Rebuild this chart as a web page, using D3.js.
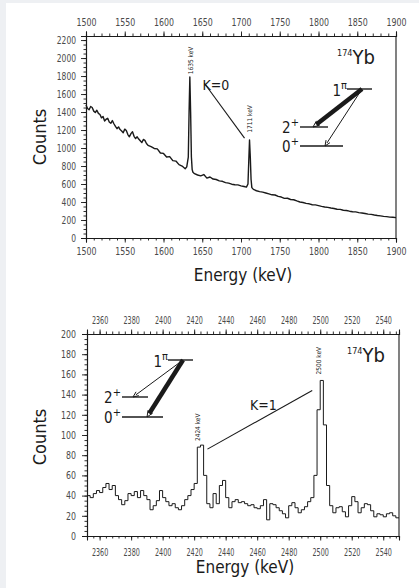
<!DOCTYPE html>
<html><head><meta charset="utf-8">
<script src="https://cdn.jsdelivr.net/npm/d3@7"></script>
<style>
html,body{margin:0;padding:0;background:#fff;}
svg{display:block;}
text{font-family:"DejaVu Sans Condensed","DejaVu Sans",sans-serif;}
</style></head>
<body><svg id="c" width="419" height="588"></svg>
<script>
// ---------- DATA ----------
// Upper panel: gamma spectrum 1500–1900 keV
const topE = [1500,1502,1504,1506,1508,1510,1512,1514,1516,1518,1520,1522,1524,1526,1528,1530,1532,1534,1536,1538,1540,1542,1544,1546,1548,1550,1552,1554,1556,1558,1560,1562,1564,1566,1568,1570,1572,1574,1576,1578,1580,1584,1588,1592,1596,1600,1604,1608,1612,1616,1620,1624,1628,1630,1632,1633,1634,1635,1636,1637,1638,1640,1644,1648,1652,1656,1660,1664,1668,1672,1676,1680,1684,1688,1692,1696,1700,1704,1707,1709,1710,1711,1712,1713,1714,1716,1720,1724,1728,1732,1736,1740,1744,1748,1752,1756,1760,1764,1768,1772,1776,1780,1784,1788,1792,1796,1800,1804,1808,1812,1816,1820,1824,1828,1832,1836,1840,1844,1848,1852,1856,1860,1864,1868,1872,1876,1880,1884,1888,1892,1896,1900];
const topC = [1478,1440,1425,1462,1450,1410,1395,1420,1385,1372,1335,1350,1300,1320,1330,1290,1275,1305,1270,1240,1215,1235,1205,1190,1170,1210,1195,1150,1125,1160,1180,1130,1105,1125,1100,1080,1060,1095,1085,1050,1030,1015,995,990,945,940,900,905,860,855,815,800,770,790,900,1400,1790,1400,900,760,730,715,700,690,705,665,678,655,650,635,630,615,610,598,592,590,580,572,565,600,850,1090,900,650,560,540,525,515,510,500,490,480,478,462,455,440,442,428,425,412,400,395,385,380,370,368,360,352,345,340,333,328,320,318,308,305,298,292,290,282,278,272,265,262,255,250,246,240,238,232,230,226];
const topXTicks = [1500,1550,1600,1650,1700,1750,1800,1850,1900];
const topYTicks = [0,200,400,600,800,1000,1200,1400,1600,1800,2000,2200];

// Lower panel: gamma spectrum 2352–2550 keV
const botE = [2352,2354,2356,2358,2360,2362,2364,2366,2368,2370,2372,2374,2376,2378,2380,2382,2384,2386,2388,2390,2392,2394,2396,2398,2400,2402,2404,2406,2408,2410,2412,2414,2416,2418,2420,2422,2424,2426,2428,2430,2432,2434,2436,2438,2440,2442,2444,2446,2448,2450,2452,2454,2456,2458,2460,2462,2464,2466,2468,2470,2472,2474,2476,2478,2480,2482,2484,2486,2488,2490,2492,2494,2496,2498,2500,2502,2504,2506,2508,2510,2512,2514,2516,2518,2520,2522,2524,2526,2528,2530,2532,2534,2536,2538,2540,2542,2544,2546,2548,2550];
const botC = [40,38,42,45,43,48,52,46,50,40,36,31,35,42,40,44,38,45,40,36,26,30,35,45,38,34,30,32,28,26,30,36,40,46,52,88,90,60,32,28,42,32,50,55,38,28,34,36,33,34,32,30,31,28,27,30,36,16,32,31,28,25,22,18,30,33,28,23,26,29,34,38,60,125,154,110,50,30,23,28,29,24,19,30,39,34,23,28,32,31,25,19,22,21,19,22,23,20,18,18];
const botXTicks = [2360,2380,2400,2420,2440,2460,2480,2500,2520,2540];
const botYTicks = [0,20,40,60,80,100,120,140,160,180,200];

// ---------- DRAW ----------
const svg = d3.select("#c");
svg.append("rect").attr("x",0).attr("y",0).attr("width",6).attr("height",588).attr("fill","#eef0f3");
svg.append("rect").attr("x",0).attr("y",0).attr("width",419).attr("height",3).attr("fill","#eef0f3");

const ink = "#1a1a1a", tickCol = "#4a4a4a";

function panel(o){
  const x = d3.scaleLinear().domain(o.xd).range([o.l,o.r]);
  const y = d3.scaleLinear().domain(o.yd).range([o.b,o.t]);
  const g = svg.append("g");
  const styleAxis = (perDigit) => sel => {
    sel.selectAll(".domain").attr("stroke",ink).attr("stroke-width",1.1);
    sel.selectAll(".tick line").attr("stroke",ink).attr("stroke-width",0.9);
    sel.selectAll("text").attr("fill",tickCol).attr("font-size",10.5)
      .attr("font-family",'"DejaVu Sans Condensed","DejaVu Sans",sans-serif')
      .each(function(){
        const s = d3.select(this).text();
        if (s && perDigit) d3.select(this).attr("textLength", s.length*perDigit).attr("lengthAdjust","spacingAndGlyphs");
      });
  };
  const minorX = d3.range(Math.ceil(o.xd[0]/o.xMinor)*o.xMinor, o.xd[1]+0.1, o.xMinor);
  g.append("g").attr("transform",`translate(0,${o.b})`)
    .call(d3.axisBottom(x).tickValues(minorX).tickSize(2.5).tickFormat(""))
    .call(styleAxis(0));
  g.append("g").attr("transform",`translate(0,${o.t})`)
    .call(d3.axisTop(x).tickValues(minorX).tickSize(2.5).tickFormat(""))
    .call(styleAxis(0));
  g.append("g").attr("transform",`translate(${o.l},0)`)
    .call(d3.axisLeft(y).tickValues(d3.range(0, o.yd[1]+0.1, o.yMinor)).tickSize(2.5).tickFormat(""))
    .call(styleAxis(0));
  g.append("g").attr("transform",`translate(0,${o.b})`)
    .call(d3.axisBottom(x).tickValues(o.xt).tickSize(4.5).tickPadding(o.bPad).tickFormat(d3.format("d")))
    .call(styleAxis(o.xDigit));
  g.append("g").attr("transform",`translate(0,${o.t})`)
    .call(d3.axisTop(x).tickValues(o.xt).tickSize(4.5).tickPadding(o.tPad).tickFormat(d3.format("d")))
    .call(styleAxis(o.xDigit));
  g.append("g").attr("transform",`translate(${o.l},0)`)
    .call(d3.axisLeft(y).tickValues(o.yt).tickSize(5).tickPadding(o.lPad).tickFormat(d3.format("d")))
    .call(styleAxis(o.yDigit));
  g.append("line").attr("x1",o.r).attr("x2",o.r).attr("y1",o.t).attr("y2",o.b)
    .attr("stroke",ink).attr("stroke-width",1.1);
  const data = o.E.map((e,i)=>[e,o.C[i]]);
  const line = d3.line().x(d=>x(d[0])).y(d=>y(d[1])).curve(o.curve);
  g.append("path").datum(data).attr("d",line).attr("fill","none")
    .attr("stroke",ink).attr("stroke-width",o.sw).attr("stroke-linejoin","round");
  g.append("text").attr("x",o.titleX).attr("y",o.titleY).attr("text-anchor","middle")
    .attr("font-size",17).attr("fill",ink).text("Energy (keV)");
  g.append("text").attr("transform",`translate(46,${o.countsY}) rotate(-90)`)
    .attr("text-anchor","middle").attr("font-size",18).attr("fill",ink).text("Counts");
  return {x,y,g};
}

function nucleus(g,x,y){
  const t = g.append("text").attr("x",x).attr("y",y).attr("fill",ink).attr("font-size",20);
  t.append("tspan").attr("font-size",9).attr("dy",-8).text("174");
  t.append("tspan").attr("dy",8).text("Yb");
}
function levelLabel(g,x,y,main,sup){
  const t = g.append("text").attr("x",x).attr("y",y).attr("fill",ink).attr("font-size",15).attr("text-anchor","end");
  t.append("tspan").text(main);
  t.append("tspan").attr("font-size",11).attr("dy",-7).text(sup);
}
function arrow(g,x1,y1,x2,y2,w,head){
  const ang = Math.atan2(y2-y1,x2-x1);
  g.append("line").attr("x1",x1).attr("y1",y1).attr("x2",x2-Math.cos(ang)*head*0.6).attr("y2",y2-Math.sin(ang)*head*0.6)
    .attr("stroke",ink).attr("stroke-width",w);
  const a1 = ang+Math.PI-0.4, a2 = ang+Math.PI+0.4;
  g.append("path").attr("d",`M${x2+Math.cos(a1)*head},${y2+Math.sin(a1)*head}L${x2},${y2}L${x2+Math.cos(a2)*head},${y2+Math.sin(a2)*head}`)
    .attr("fill","none").attr("stroke",ink).attr("stroke-width",1);
}
function hline(g,x1,x2,y){
  g.append("line").attr("x1",x1).attr("x2",x2).attr("y1",y).attr("y2",y).attr("stroke",ink).attr("stroke-width",1.4);
}
function vlabel(g,x,y,txt){
  g.append("text").attr("transform",`translate(${x+2},${y}) rotate(-90)`).attr("font-size",6.5)
    .attr("fill",ink).text(txt);
}

// ---- Upper panel ----
const P1 = panel({xd:[1500,1900], yd:[0,2245], l:86, r:396, t:36, b:238,
  xt:topXTicks, yt:topYTicks, xMinor:10, yMinor:50, E:topE, C:topC, xDigit:5, yDigit:4.8,
  curve:d3.curveLinear, sw:1.4, bPad:5, tPad:6, lPad:5, titleX:243, titleY:281, countsY:137});
{
  const {x,y,g} = P1;
  vlabel(g, x(1635), y(1820), "1635 keV");
  vlabel(g, x(1711), y(1170), "1711 keV");
  g.append("text").attr("x",x(1636)+11).attr("y",y(1650)).attr("font-size",14).attr("fill",ink).text("K=0");
  g.append("line").attr("x1",x(1636)+13).attr("y1",y(1720)).attr("x2",x(1711)-5).attr("y2",y(1110))
    .attr("stroke",ink).attr("stroke-width",1.1);
  nucleus(g,337,64);
  hline(g,347,372,89); hline(g,300,328,127); hline(g,300,343,146);
  levelLabel(g,347,96,"1","π");
  levelLabel(g,299,133,"2","+");
  levelLabel(g,299,152,"0","+");
  arrow(g,362,89,313,127,4.5,7);
  arrow(g,362,89,325,146,1,6);
}

// ---- Lower panel ----
const P2 = panel({xd:[2352,2550], yd:[0,200], l:87, r:399, t:334, b:536,
  xt:botXTicks, yt:botYTicks, xMinor:4, yMinor:5, E:botE, C:botC, xDigit:4.1, yDigit:5,
  curve:d3.curveStepAfter, sw:1, bPad:8, tPad:6, lPad:6, titleX:245, titleY:573, countsY:437});
{
  const {x,y,g} = P2;
  vlabel(g, x(2424)-2, y(94), "2424 keV");
  vlabel(g, x(2500)-1, y(160), "2500 keV");
  g.append("text").attr("x",250).attr("y",410).attr("font-size",14).attr("fill",ink).text("K=1");
  g.append("line").attr("x1",x(2424)+7).attr("y1",y(86)).attr("x2",x(2500)-8).attr("y2",y(144))
    .attr("stroke",ink).attr("stroke-width",1.1);
  nucleus(g,347,362);
  hline(g,168,193,360); hline(g,122,148,397); hline(g,122,163,417);
  levelLabel(g,168,367,"1","π");
  levelLabel(g,121,403,"2","+");
  levelLabel(g,121,423,"0","+");
  arrow(g,183,360,133,397,1,6);
  arrow(g,183,360,147,417,4.5,7);
}
</script></body></html>
